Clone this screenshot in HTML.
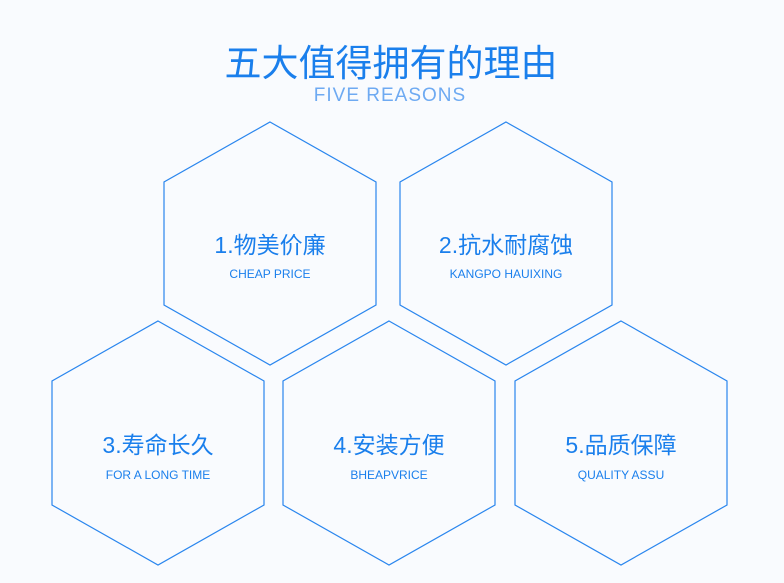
<!DOCTYPE html>
<html><head><meta charset="utf-8"><style>
html,body{margin:0;padding:0;background:#f9fbfe;}
svg{display:block}
</style></head><body>
<svg width="784" height="583" viewBox="0 0 784 583" xmlns="http://www.w3.org/2000/svg">
<rect width="784" height="583" fill="#f9fbfe"/>
<g font-family="Liberation Sans, Noto Sans CJK SC, sans-serif" text-anchor="middle">
<text x="391" y="76" font-size="37" fill="#1a7fec" font-family="Noto Sans CJK SC, sans-serif">五大值得拥有的理由</text>
<text x="390" y="101" font-size="19" fill="#6eaaf2" letter-spacing="1">FIVE REASONS</text>
<g fill="none" stroke="#2a86ee" stroke-width="1.2">
<polygon points="270,122 376,182 376,305 270,365 164,305 164,182"/>
<polygon points="506,122 612,182 612,305 506,365 400,305 400,182"/>
<polygon points="158,321 264,381 264,505 158,565 52,505 52,381"/>
<polygon points="389,321 495,381 495,505 389,565 283,505 283,381"/>
<polygon points="621,321 727,381 727,505 621,565 515,505 515,381"/>
</g>
<g fill="#1a7fec">
<text x="270" y="253" font-size="23">1.<tspan font-family="Noto Sans CJK SC, sans-serif">物美价廉</tspan></text>
<text x="270" y="278" font-size="12">CHEAP PRICE</text>
<text x="506" y="253" font-size="23">2.<tspan font-family="Noto Sans CJK SC, sans-serif">抗水耐腐蚀</tspan></text>
<text x="506" y="278" font-size="12">KANGPO HAUIXING</text>
<text x="158" y="453" font-size="23">3.<tspan font-family="Noto Sans CJK SC, sans-serif">寿命长久</tspan></text>
<text x="158" y="479" font-size="12">FOR A LONG TIME</text>
<text x="389" y="453" font-size="23">4.<tspan font-family="Noto Sans CJK SC, sans-serif">安装方便</tspan></text>
<text x="389" y="479" font-size="12">BHEAPVRICE</text>
<text x="621" y="453" font-size="23">5.<tspan font-family="Noto Sans CJK SC, sans-serif">品质保障</tspan></text>
<text x="621" y="479" font-size="12">QUALITY ASSU</text>
</g>
</g>
</svg>
</body></html>
